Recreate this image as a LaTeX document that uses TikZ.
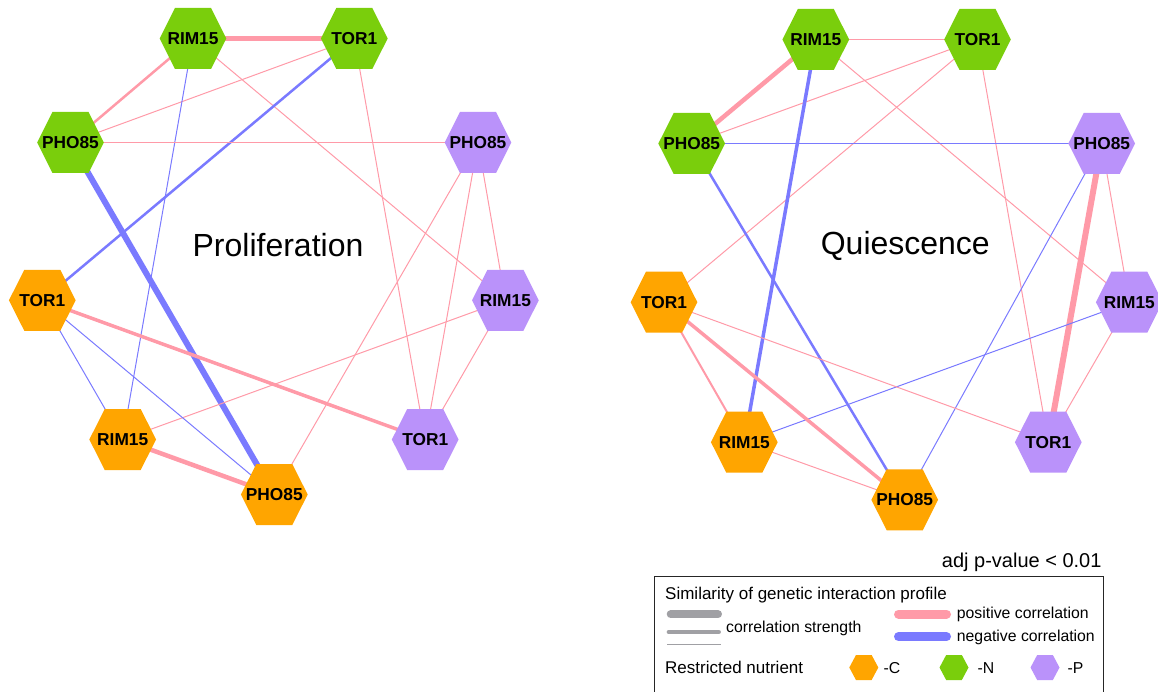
\documentclass[tikz,border=0pt]{standalone}
\usepackage{fontspec}
\setmainfont{Liberation Sans}
\usepackage{xcolor}
\usepackage{tikz}
\usetikzlibrary{positioning, backgrounds, calc}

\definecolor{poscol}{RGB}{255,154,168}
\definecolor{negcol}{RGB}{122,122,255}
\definecolor{cnode}{RGB}{255,165,0}
\definecolor{nnode}{RGB}{122,206,12}
\definecolor{pnode}{RGB}{186,146,250}
\definecolor{strengthcol}{RGB}{160,160,164}

\begin{document}
\begin{tikzpicture}[
    x=1pt, y=-1pt,
    hexshape/.style={rectangle, inner sep=0pt,
        path picture={\fill[#1]
            (path picture bounding box.west)
            -- ($(path picture bounding box.north west)!0.23!(path picture bounding box.north east)$)
            -- ($(path picture bounding box.north west)!0.77!(path picture bounding box.north east)$)
            -- (path picture bounding box.east)
            -- ($(path picture bounding box.south west)!0.77!(path picture bounding box.south east)$)
            -- ($(path picture bounding box.south west)!0.23!(path picture bounding box.south east)$)
            -- cycle;}},
    gene/.style={hexshape=#1, minimum width=66.7pt, minimum height=61pt,
        font=\fontsize{17.3}{17.3}\selectfont\bfseries},
    leghex/.style={hexshape=#1, minimum width=29pt, minimum height=25pt},
    posline/.style={draw=poscol, line width=#1},
    negline/.style={draw=negcol, line width=#1},
    legtext/.style={font=\fontsize{15.8}{15.8}\selectfont, inner sep=0pt},
    legbig/.style={font=\fontsize{17}{17}\selectfont, inner sep=0pt},
    phase/.style={font=\fontsize{32}{32}\selectfont}
]
    \useasboundingbox (0,0) rectangle (1158,692);

    % Proliferation
    \node[gene=nnode] (lNR) at (193,38.5) {RIM15};
    \node[gene=nnode] (lNT) at (354.3,38.5) {TOR1};
    \node[gene=nnode] (lNP) at (70.5,142.5) {PHO85};
    \node[gene=pnode] (lPP) at (478,142.5) {PHO85};
    \node[gene=cnode] (lCT) at (42.3,300.3) {TOR1};
    \node[gene=pnode] (lPR) at (505.4,300.3) {RIM15};
    \node[gene=cnode] (lCR) at (122.7,439.5) {RIM15};
    \node[gene=pnode] (lPT) at (425.2,439.5) {TOR1};
    \node[gene=cnode] (lCP) at (274.3,494.5) {PHO85};
    \node[phase] (prolif) at (278,245) {Proliferation};

    \begin{scope}[on background layer]
        \draw[posline=5.3] (lNR.center) -- (lNT.center);
        \draw[posline=2.5] (lNR.center) -- (lNP.center);
        \draw[posline=1] (lNP.center) -- (lNT.center);
        \draw[negline=1] (lNR.center) -- (lCR.center);
        \draw[posline=1] (lNR.center) -- (lPR.center);
        \draw[negline=2.5] (lNT.center) -- (lCT.center);
        \draw[posline=1] (lNT.center) -- (lPT.center);
        \draw[posline=1] (lNP.center) -- (lPP.center);
        \draw[negline=6] (lNP.center) -- (lCP.center);
        \draw[posline=1] (lPP.center) -- (lCP.center);
        \draw[posline=1] (lPP.center) -- (lPT.center);
        \draw[posline=1] (lPP.center) -- (lPR.center);
        \draw[posline=1] (lPR.center) -- (lPT.center);
        \draw[posline=1] (lPR.center) -- (lCR.center);
        \draw[posline=3.5] (lCT.center) -- (lPT.center);
        \draw[negline=1] (lCT.center) -- (lCR.center);
        \draw[negline=1] (lCT.center) -- (lCP.center);
        \draw[posline=4.5] (lCR.center) -- (lCP.center);
    \end{scope}

    % Quiescence
    \node[gene=nnode] (rNR) at (815.8,39.5) {RIM15};
    \node[gene=nnode] (rNT) at (977.5,39.5) {TOR1};
    \node[gene=nnode] (rNP) at (691.7,143.5) {PHO85};
    \node[gene=pnode] (rPP) at (1101.7,143.5) {PHO85};
    \node[gene=cnode] (rCT) at (664,302.2) {TOR1};
    \node[gene=pnode] (rPR) at (1129.3,302.2) {RIM15};
    \node[gene=cnode] (rCR) at (744.3,442.2) {RIM15};
    \node[gene=pnode] (rPT) at (1048.3,442.2) {TOR1};
    \node[gene=cnode] (rCP) at (904.7,499.8) {PHO85};
    \node[phase] (quiesc) at (905.3,245.5) {Quiescence};

    \begin{scope}[on background layer]
        \draw[posline=1] (rNR.center) -- (rNT.center);
        \draw[posline=4.5] (rNR.center) -- (rNP.center);
        \draw[posline=1] (rNP.center) -- (rNT.center);
        \draw[posline=1] (rNT.center) -- (rCT.center);
        \draw[negline=3.5] (rNR.center) -- (rCR.center);
        \draw[posline=1] (rNR.center) -- (rPR.center);
        \draw[posline=1] (rNT.center) -- (rPT.center);
        \draw[negline=1.5] (rNP.center) -- (rPP.center);
        \draw[negline=2.5] (rNP.center) -- (rCP.center);
        \draw[negline=1] (rPP.center) -- (rCP.center);
        \draw[posline=6] (rPP.center) -- (rPT.center);
        \draw[posline=1] (rPP.center) -- (rPR.center);
        \draw[posline=1] (rPR.center) -- (rPT.center);
        \draw[negline=1] (rPR.center) -- (rCR.center);
        \draw[posline=1] (rCT.center) -- (rPT.center);
        \draw[posline=2] (rCT.center) -- (rCR.center);
        \draw[posline=3.5] (rCT.center) -- (rCP.center);
        \draw[posline=1] (rCR.center) -- (rCP.center);
    \end{scope}

    % Legend
    \node[anchor=east, font=\fontsize{20}{20}\selectfont, inner sep=0pt] (pval) at (1101.7,562) {adj p-value < 0.01};
    \draw[line width=1.3, black!85] (654.5,576.5) rectangle (1103.3,700);
    \node[legbig, anchor=base west] (simtitle) at (665,599) {Similarity of genetic interaction profile};

    \coordinate (w1a) at (670.7,614.3);
    \coordinate (w1b) at (718,614.3);
    \coordinate (w2a) at (668.8,632);
    \coordinate (w2b) at (718.8,632);
    \coordinate (w3a) at (667,644.5);
    \coordinate (w3b) at (721,644.5);
    \draw[strengthcol, line width=8, line cap=round] (w1a) -- (w1b);
    \draw[strengthcol, line width=4.3, line cap=round] (w2a) -- (w2b);
    \draw[strengthcol, line width=1] (w3a) -- (w3b);
    \node[legtext, anchor=base west] (strength) at (726,632) {correlation strength};

    \coordinate (pa) at (898.5,614);
    \coordinate (pb) at (946.5,614);
    \coordinate (na) at (898.5,636.7);
    \coordinate (nb) at (946.5,636.7);
    \draw[poscol, line width=9, line cap=round] (pa) -- (pb);
    \draw[negcol, line width=9, line cap=round] (na) -- (nb);
    \node[legtext, anchor=base west] (postext) at (956.7,618.5) {positive correlation};
    \node[legtext, anchor=base west] (negtext) at (956.7,641) {negative correlation};

    \node[legbig, anchor=base west] (restrict) at (665,673.3) {Restricted nutrient};
    \node[leghex=cnode] (hexC) at (863.8,667.5) {};
    \node[leghex=nnode] (hexN) at (954,667.5) {};
    \node[leghex=pnode] (hexP) at (1045,667.5) {};
    \node[legtext, anchor=base west] (minusC) at (883.3,673.3) {-C};
    \node[legtext, anchor=base west] (minusN) at (977.3,673.3) {-N};
    \node[legtext, anchor=base west] (minusP) at (1067.3,673.3) {-P};
\end{tikzpicture}
\end{document}
